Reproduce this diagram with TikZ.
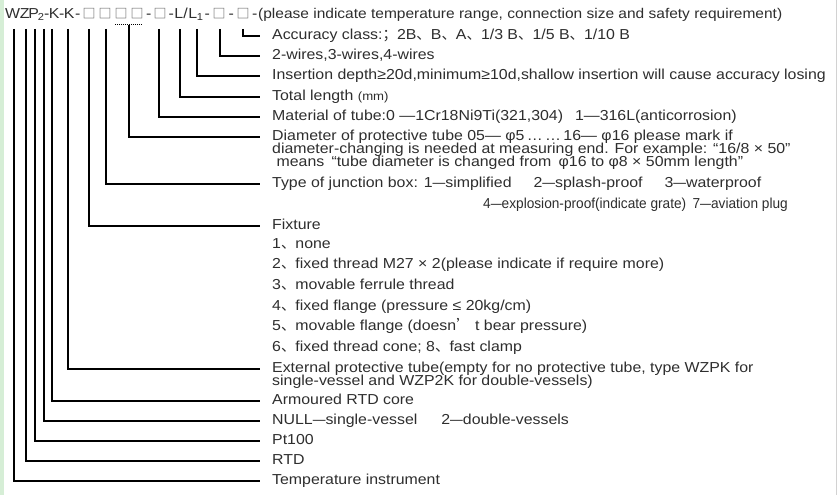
\documentclass[tikz,border=0pt]{standalone}
\usepackage{graphicx}
\usepackage{fontspec}
\setmainfont{Liberation Sans}[FakeStretch=1.1]
\newfontfamily\cjkf{Noto Sans CJK SC}
\newfontfamily\djv{DejaVu Sans}
\newcommand\dn{{\cjkf 、}}
\newcommand\dsh{\scalebox{0.8}[1]{—}}
\newcommand\hb[2]{\makebox[#1bp]{#2}}
\definecolor{txt}{HTML}{2E2E2E}
\definecolor{strip}{HTML}{D6EED6}
\newcommand\bxx{\hb{16}{\textcolor{txt!80}{\cjkf\fontsize{13}{14}\selectfont □}}}
\begin{document}
\begin{tikzpicture}[x=1bp,y=-1bp,
  lbl/.style={anchor=west, inner xsep=12bp, inner ysep=0pt, text=txt,
    font=\fontsize{14.5}{16}\selectfont, text height=10bp, text depth=3bp},
  leader/.style={line width=1.1bp, black}]
\useasboundingbox (0,0) rectangle (838,495);
\fill[white] (0,0) rectangle (838,495);
\fill[strip] (0,0) rectangle (4,495);
\draw[gray!35, line width=0.8bp] (836.5,0) -- (836.5,495);

\node[lbl, inner xsep=0pt] (hdr) at (5,15) {\hb{15}{W}\hb{9}{Z}\hb{9}{P}\hb{6}{\textsubscript{2}}\hb{5}{-}\hb{10}{K}\hb{5}{-}\hb{10}{K}\hb{7}{-}\bxx\bxx\bxx\bxx\hb{7}{-}\bxx\hb{6}{-}\hb{9}{L}\hb{5}{/}\hb{9}{L}\hb{6}{\textsubscript{1}}\hb{8}{-}\bxx\hb{8}{-}\bxx\hb{7}{-}{\fontsize{14.15}{16}\selectfont(please indicate temperature range, connection size and safety requirement)}};

\node[lbl] (acc) at (260,36) {Accuracy class:{\cjkf ；}2B\dn B\dn A\dn 1/3 B\dn 1/5 B\dn 1/10 B};
\node[lbl] (wir) at (260,56) {2-wires,3-wires,4-wires};
\node[lbl] (ins) at (260,76) {Insertion depth≥20d,minimum≥10d,shallow insertion will cause accuracy losing};
\node[lbl] (tot) at (260,97) {Total length {\fontsize{12}{14}\selectfont (mm)}};
\node[lbl] (mat) at (260,117) {Material of tube:0 —1Cr18Ni9Ti(321,304)\hspace{12bp}1—316L(anticorrosion)};
\node[lbl] (dia) at (260,137) {Diameter of protective tube 05— φ5\,…\,…\,16— φ16 please mark if};
\node[lbl] (diab) at (260,150) {diameter-changing is needed at measuring end. For example: “16/8 × 50”};
\node[lbl] (diac) at (260,163) {\ means\enspace “tube diameter is changed from\enspace φ16 to φ8 × 50mm length”};
\node[lbl] (typ) at (260,184) {Type of junction box: 1\dsh simplified\hspace{22bp}2\dsh splash-proof\hspace{22bp}3\dsh waterproof};
\node[lbl] (typb) at (471,205) {\scalebox{0.86}[1]{4\dsh explosion-proof(indicate grate)\enspace 7\dsh aviation plug}};
\node[lbl] (fix) at (260,226) {Fixture};
\node[lbl] (f1) at (260,245) {1\dn none};
\node[lbl] (f2) at (260,265) {2\dn fixed thread M27 × 2(please indicate if require more)};
\node[lbl] (f3) at (260,286) {3\dn movable ferrule thread};
\node[lbl] (f4) at (260,307) {4\dn fixed flange (pressure ≤ 20kg/cm)};
\node[lbl] (f5) at (260,327) {5\dn movable flange (doesn{\cjkf ’} t bear pressure)};
\node[lbl] (f6) at (260,348) {6\dn fixed thread cone; 8\dn fast clamp};
\node[lbl] (ext) at (260,369) {External protective tube(empty for no protective tube, type WZPK for};
\node[lbl] (extb) at (260,382) {single-vessel and WZP2K for double-vessels)};
\node[lbl] (arm) at (260,401) {Armoured RTD core};
\node[lbl] (nul) at (260,421) {NULL\dsh single-vessel\hspace{24bp}2\dsh double-vessels};
\node[lbl] (pt) at (260,441) {Pt100};
\node[lbl] (rtd) at (260,461) {RTD};
\node[lbl] (tmp) at (260,481) {Temperature instrument};

\foreach \x/\n in {14/tmp, 26/rtd, 35/pt, 44/nul, 52/arm, 68/ext, 89/fix, 106/typ, 159/mat, 180/tot, 197/ins, 220/wir, 243/acc}{
  \coordinate (top-\n) at (\x,29);
  \draw[leader] (top-\n) |- (\n.west);
}
\coordinate (ul-a) at (115,25);
\coordinate (ul-b) at (142,25);
\draw[line width=1bp, densely dotted] (ul-a) -- (ul-b);
\coordinate (top-dia) at (129,25);
\draw[leader] (top-dia) |- (dia.west);
\end{tikzpicture}
\end{document}
